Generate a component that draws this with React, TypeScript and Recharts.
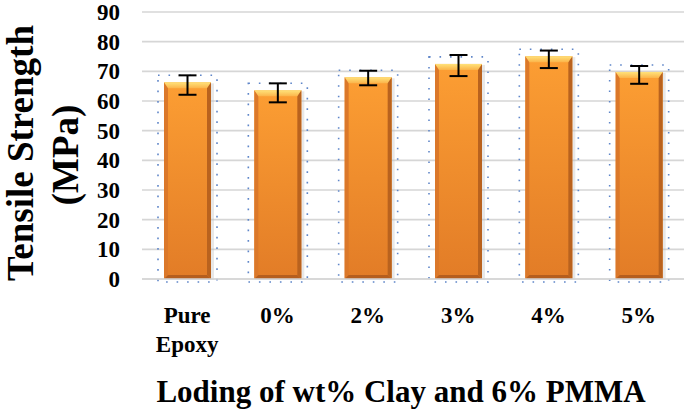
import { BarChart, Bar, XAxis, YAxis, CartesianGrid, ErrorBar } from 'recharts';

const categories = ['Pure Epoxy', '0%', '2%', '3%', '4%', '5%'];
const strength = [66.3, 63.6, 68.0, 72.5, 75.1, 69.8];
const errLow = [4.2, 4.05, 2.7, 4.1, 4.0, 4.0];
const errHigh = [2.35, 2.35, 2.2, 3.0, 1.9, 2.0];
const yTicks = [0, 10, 20, 30, 40, 50, 60, 70, 80, 90];

const data = categories.map((name, i) => ({
  name,
  value: strength[i],
  err: [errLow[i], errHigh[i]],
}));

const FONT = "'Liberation Serif', 'Times New Roman', serif";

// bevelled orange bar + dotted selection box like the original
const BevelBar = (props: any) => {
  const { x, y, width: w, height: h } = props;
  if (h <= 0) return null;
  const b = 4;
  return (
    <g>
      <rect
        x={x - 6}
        y={y - 7}
        width={w + 12}
        height={h + 10}
        fill="none"
        stroke="#5F86C9"
        strokeWidth={1.6}
        strokeDasharray="1.6 8.9"
      />
      <rect x={x + 1} y={y + 1} width={w + 2} height={h} fill="#bdbdbd" opacity={0.35} />
      <rect x={x} y={y} width={w} height={h} fill="url(#barFill)" />
      <polygon points={`${x},${y} ${x + b},${y + b} ${x + b},${y + h - b} ${x},${y + h}`} fill="#DB782A" />
      <polygon
        points={`${x + w},${y} ${x + w - b},${y + b} ${x + w - b},${y + h - b} ${x + w},${y + h}`}
        fill="#B9621E"
      />
      <polygon
        points={`${x},${y + h} ${x + b},${y + h - b} ${x + w - b},${y + h - b} ${x + w},${y + h}`}
        fill="#B55E1E"
      />
      <polygon
        points={`${x},${y} ${x + w},${y} ${x + w - b},${y + b + 2} ${x + b},${y + b + 2}`}
        fill="url(#topFill)"
      />
    </g>
  );
};

const XTick = (props: any) => {
  const { x, y, payload } = props;
  const lines = String(payload.value).split(' ');
  return (
    <text x={x} y={y} textAnchor="middle" fontFamily={FONT} fontWeight="bold" fontSize={23} fill="#000">
      {lines.map((l, i) => (
        <tspan key={l} x={x} dy={i === 0 ? 44 : 29}>
          {l}
        </tspan>
      ))}
    </text>
  );
};

export default function App() {
  return (
    <div style={{ position: 'absolute', left: 0, top: 0, width: 685, height: 414, background: '#fff' }}>
      <BarChart width={685} height={414} data={data} margin={{ top: 12, right: 1, bottom: 105, left: 0 }}>
        <defs>
          <linearGradient id="barFill" x1="0" y1="0" x2="0" y2="1">
            <stop offset="0%" stopColor="#FC9E33" />
            <stop offset="100%" stopColor="#E27C27" />
          </linearGradient>
          <linearGradient id="topFill" x1="0" y1="0" x2="0" y2="1">
            <stop offset="0%" stopColor="#FFE27A" />
            <stop offset="100%" stopColor="#FBB44A" />
          </linearGradient>
        </defs>
        <CartesianGrid vertical={false} stroke="#D6D6D6" strokeWidth={1.6} />
        <XAxis
          dataKey="name"
          height={30}
          axisLine={{ stroke: '#D6D6D6', strokeWidth: 1.6 }}
          tickLine={false}
          tickSize={0}
          tickMargin={0}
          interval={0}
          tick={<XTick />}
        />
        <YAxis
          width={142}
          domain={[0, 90]}
          ticks={yTicks}
          interval={0}
          axisLine={false}
          tickLine={false}
          tickSize={0}
          tickMargin={22}
          tick={{ fontSize: 23, fontWeight: 'bold', fill: '#000', fontFamily: FONT }}
        />
        <Bar dataKey="value" barSize={47} shape={<BevelBar />} isAnimationActive={false}>
          <ErrorBar dataKey="err" width={9} stroke="#000" strokeWidth={2} direction="y" />
        </Bar>
      </BarChart>
      <svg width={685} height={414} style={{ position: 'absolute', left: 0, top: 0, pointerEvents: 'none' }}>
        <g transform="rotate(-90)" fontFamily={FONT} fontWeight="bold" fontSize={37} fill="#000">
          <text x={-153} y={33} textAnchor="middle">
            Tensile Strength
          </text>
          <text x={-155} y={78} textAnchor="middle">
            (MPa)
          </text>
        </g>
        <text x={401} y={402} textAnchor="middle" fontFamily={FONT} fontWeight="bold" fontSize={31} fill="#000">
          Loding of wt% Clay and 6% PMMA
        </text>
      </svg>
    </div>
  );
}
